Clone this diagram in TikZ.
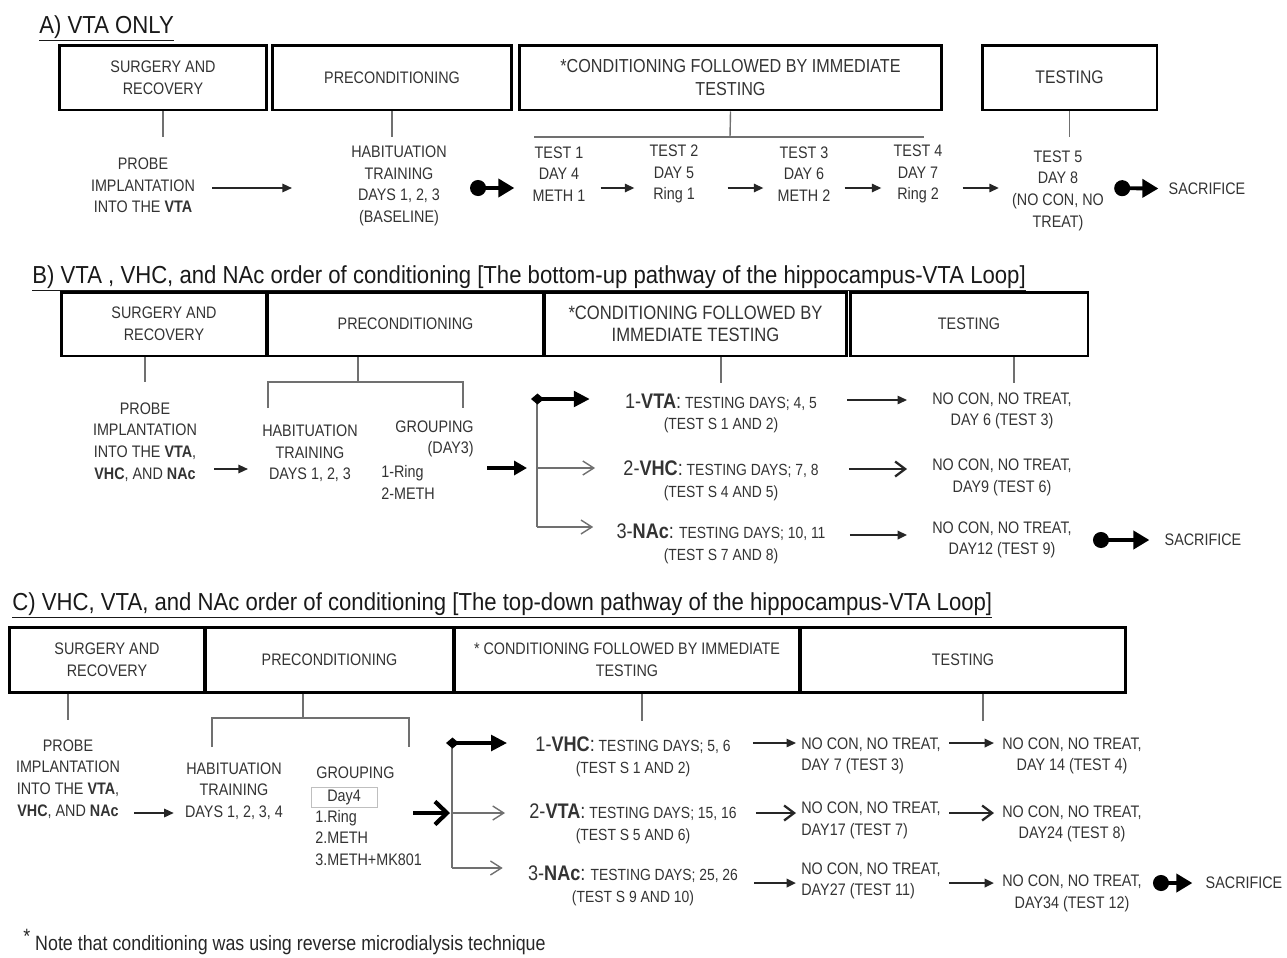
\documentclass[tikz,border=0pt]{standalone}
\usepackage{fontspec}
\newfontfamily\bodyf[FakeStretch=0.86]{Liberation Sans}
\newfontfamily\titf[FakeStretch=0.9]{Liberation Sans}
\usepackage{tikz}
\usetikzlibrary{arrows.meta,positioning,calc}

\definecolor{txt}{HTML}{333333}
\definecolor{lnk}{HTML}{707070}
\newcommand\bodysz{\fontsize{9.5}{12.3}\selectfont}
\newcommand\rowsz{\fontsize{9.2}{12.3}\selectfont}
\newcommand\headsz{\fontsize{12}{12.3}\selectfont}
\newcommand\titsz{\fontsize{14}{16}\selectfont}

\tikzset{
  phase/.style={draw=black, line width=1.7pt, minimum height=1.3cm},
  link/.style={draw=lnk, line width=0.8pt},
  arr/.style={draw=black!85, line width=0.8pt, -{Triangle[length=1.9mm,width=1.7mm]}},
  barb/.style={draw=black!85, line width=1.3pt, -{Straight Barb[length=2mm,width=3mm]}},
  ball/.style={draw=black, line width=2.2pt, {Circle[length=3.2mm]}-{Triangle[length=3.2mm,width=3.6mm]}},
  dia/.style={draw=black, line width=2.2pt, {Diamond[length=2.6mm,width=2.2mm]}-{Triangle[length=3.2mm,width=3.1mm]}},
  branch/.style={draw=lnk, line width=0.8pt, -{Straight Barb[length=2.2mm,width=2.8mm]}},
  fat/.style={draw=black, line width=2.3pt, -{Triangle[length=2.6mm,width=2.8mm]}},
  fatbarb/.style={draw=black, line width=2.4pt, -{Straight Barb[length=2.4mm,width=4.6mm]}},
  title/.style={anchor=base west, font=\titf\titsz, text=black!90},
  rowtxt/.style={font=\bodyf\rowsz},
  daybox/.style={draw=black!25, line width=0.5pt, minimum width=1.32cm, minimum height=0.4cm},
}

\begin{document}
\begin{tikzpicture}[x=0.02cm, y=-0.02cm, every node/.style={inner sep=0pt, text=txt, font=\bodyf\bodysz, align=center}]
  \useasboundingbox (0,0) rectangle (1287,957);

  % ---------------- A) VTA only
  \node[title] (titA) at (39,33) {\underline{A) VTA ONLY}};
  \node[phase, minimum width=4.16cm] (surgA) at (163,77.5) {SURGERY AND\\RECOVERY};
  \node[phase, minimum width=4.8cm] (precA) at (392,77.5) {PRECONDITIONING};
  \node[phase, minimum width=8.46cm, font=\bodyf\fontsize{10.7}{13}\selectfont] (condA) at (730.5,77.5) {*CONDITIONING FOLLOWED BY IMMEDIATE\\TESTING};
  \node[phase, minimum width=3.5cm, font=\bodyf\fontsize{10.4}{13}\selectfont] (testA) at (1069.5,77.5) {TESTING};

  \draw[link] (surgA.south) -- ++(0,26);
  \draw[link] (precA.south) -- ++(0,26);
  \coordinate (barA) at (730,137);
  \draw[link] (condA.south) -- (barA);
  \draw[link] (534,137) -- (924,137);
  \draw[link] (testA.south) -- ++(0,26);

  \node (probeA) at (143,185.5) {PROBE\\IMPLANTATION\\INTO THE \textbf{VTA}};
  \node (habA) at (399,186) {HABITUATION\\TRAINING\\DAYS 1, 2, 3\\(BASELINE)};
  \node (t1A) at (559,174) {TEST 1\\DAY 4\\METH 1};
  \node (t2A) at (674,174) {TEST 2\\DAY 5\\Ring 1};
  \node (t3A) at (804,174) {TEST 3\\DAY 6\\METH 2};
  \node (t4A) at (918,174) {TEST 4\\DAY 7\\Ring 2};
  \node (t5A) at (1058,190.5) {TEST 5\\DAY 8\\(NO CON, NO\\TREAT)};
  \node (sacA) at (1207,189) {SACRIFICE};
  \coordinate (rowA) at (0,188);

  \draw[arr, shorten <=0.34cm, shorten >=1.18cm] (probeA.east |- rowA) -- (habA.west |- rowA);
  \draw[ball, shorten <=0.46cm, shorten >=0.36cm] (habA.east |- rowA) -- (t1A.west |- rowA);
  \draw[arr, shorten <=0.3cm, shorten >=0.3cm] (t1A.east |- rowA) -- (t2A.west |- rowA);
  \draw[arr, shorten <=0.58cm, shorten >=0.28cm] (t2A.east |- rowA) -- (t3A.west |- rowA);
  \draw[arr, shorten <=0.28cm, shorten >=0.24cm] (t3A.east |- rowA) -- (t4A.west |- rowA);
  \draw[arr, shorten <=0.4cm, shorten >=0.26cm] (t4A.east |- rowA) -- (t5A.west |- rowA);
  \draw[ball, shorten <=0.2cm, shorten >=0.2cm] (t5A.east |- rowA) -- (sacA);

  % ---------------- B) bottom-up
  \node[title] (titB) at (32,283) {\underline{B) VTA , VHC, and NAc order of conditioning [The bottom-up pathway of the hippocampus-VTA Loop]}};
  \node[phase, minimum width=4.12cm, minimum height=1.28cm] (surgB) at (164,324) {SURGERY AND\\RECOVERY};
  \node[phase, minimum width=5.54cm, minimum height=1.28cm] (precB) at (405.5,324) {PRECONDITIONING};
  \node[phase, minimum width=6.06cm, minimum height=1.28cm, font=\bodyf\fontsize{11}{12.8}\selectfont] (condB) at (695.5,324) {*CONDITIONING FOLLOWED BY\\IMMEDIATE TESTING};
  \node[phase, minimum width=4.76cm, minimum height=1.28cm] (testB) at (969,324) {TESTING};

  \node (probeB) at (145,442) {PROBE\\IMPLANTATION\\INTO THE \textbf{VTA},\\\textbf{VHC}, AND \textbf{NAc}};
  \node (habB) at (310,453.5) {HABITUATION\\TRAINING\\DAYS 1, 2, 3};
  \node[anchor=east, align=right] (grpB) at (474,439) {GROUPING\\(DAY3)};
  \node[anchor=west, align=left] (ringB) at (381,482.5) {1-Ring\\2-METH};

  \node[rowtxt] (r1B) at (721,413.5) {{\headsz 1-\textbf{VTA}:} TESTING DAYS; 4, 5\\(TEST S 1 AND 2)};
  \node[rowtxt] (r2B) at (721,481) {{\headsz 2-\textbf{VHC}:} TESTING DAYS; 7, 8\\(TEST S 4 AND 5)};
  \node[rowtxt] (r3B) at (721,544) {{\headsz 3-\textbf{NAc}:} TESTING DAYS; 10, 11\\(TEST S 7 AND 8)};
  \node (n1B) at (1002,411) {NO CON, NO TREAT,\\DAY 6 (TEST 3)};
  \node (n2B) at (1002,477.5) {NO CON, NO TREAT,\\DAY9 (TEST 6)};
  \node (n3B) at (1002,540) {NO CON, NO TREAT,\\DAY12 (TEST 9)};
  \node (sacB) at (1203,540) {SACRIFICE};

  \draw[link] (surgB.south -| probeB) -- ++(0,25);
  \coordinate (brkB) at (358,382);
  \draw[link] (precB.south -| brkB) -- (brkB);
  \draw[link] (268,408) |- (brkB) -| (463,408);
  \draw[link] (condB.south -| r1B) -- ++(0,26);
  \draw[link] (testB.south -| 1014,0) -- ++(0,26);

  \coordinate (yB1) at (0,400);
  \coordinate (yB2) at (0,469);
  \coordinate (yB3) at (0,535);
  \draw[arr, shorten <=0.34cm, shorten >=0.28cm] (probeB.east |- yB2) -- (habB.west |- yB2);
  \coordinate (brB1) at (537,399);
  \coordinate (brB2) at (537,468);
  \coordinate (brB3) at (537,527);
  \draw[fat, shorten <=0.26cm, shorten >=0.2cm] (grpB.east |- brB2) -- (brB2);
  \draw[link] (brB1) -- (brB3);
  \draw[dia, shorten <=-0.12cm, shorten >=0.7cm] (brB1) -- (brB1 -| r1B.west);
  \draw[branch, shorten >=0.56cm] (brB2) -- (brB2 -| r2B.west);
  \draw[branch, shorten >=0.46cm] (brB3) -- (brB3 -| r3B.west);

  \draw[arr, shorten <=0.6cm, shorten >=0.5cm] (r1B.east |- yB1) -- (n1B.west |- yB1);
  \draw[barb, shorten <=0.6cm, shorten >=0.5cm] (r2B.east |- yB2) -- (n2B.west |- yB2);
  \draw[arr, line width=1.3pt, shorten <=0.48cm, shorten >=0.5cm] (r3B.east |- yB3) -- (n3B.west |- yB3);
  \draw[ball, shorten <=0.42cm, shorten >=0.3cm] (n3B.east |- sacB) -- (sacB);

  % ---------------- C) top-down
  \node[title] (titC) at (12,610) {\underline{C) VHC, VTA, and NAc order of conditioning [The top-down pathway of the hippocampus-VTA Loop]}};
  \node[phase, minimum width=3.92cm] (surgC) at (107,659.5) {SURGERY AND\\RECOVERY};
  \node[phase, minimum width=4.98cm] (precC) at (329.5,659.5) {PRECONDITIONING};
  \node[phase, minimum width=6.92cm] (condC) at (627,659.5) {* CONDITIONING FOLLOWED BY IMMEDIATE\\TESTING};
  \node[phase, minimum width=6.52cm] (testC) at (963,659.5) {TESTING};

  \node (probeC) at (68,779) {PROBE\\IMPLANTATION\\INTO THE \textbf{VTA},\\\textbf{VHC}, AND \textbf{NAc}};
  \node (habC) at (234,791) {HABITUATION\\TRAINING\\DAYS 1, 2, 3, 4};
  \node[anchor=west] (grpC) at (316,773) {GROUPING};
  \node[daybox] (dayC) at (344,797) {Day4};
  \node[anchor=west, align=left] (listC) at (315,838) {1.Ring\\2.METH\\3.METH+MK801};

  \node[rowtxt] (r1C) at (633,756.5) {{\headsz 1-\textbf{VHC}:} TESTING DAYS; 5, 6\\(TEST S 1 AND 2)};
  \node[rowtxt] (r2C) at (633,824) {{\headsz 2-\textbf{VTA}:} TESTING DAYS; 15, 16\\(TEST S 5 AND 6)};
  \node[rowtxt] (r3C) at (633,886) {{\headsz 3-\textbf{NAc}:} TESTING DAYS; 25, 26\\(TEST S 9 AND 10)};
  \node[anchor=west, align=left] (n1C) at (801,756) {NO CON, NO TREAT,\\DAY 7 (TEST 3)};
  \node[anchor=west, align=left] (n2C) at (801,820.5) {NO CON, NO TREAT,\\DAY17 (TEST 7)};
  \node[anchor=west, align=left] (n3C) at (801,881) {NO CON, NO TREAT,\\DAY27 (TEST 11)};
  \node (m1C) at (1072,756) {NO CON, NO TREAT,\\DAY 14 (TEST 4)};
  \node (m2C) at (1072,824) {NO CON, NO TREAT,\\DAY24 (TEST 8)};
  \node (m3C) at (1072,893.5) {NO CON, NO TREAT,\\DAY34 (TEST 12)};
  \node (sacC) at (1244,883) {SACRIFICE};

  \draw[link] (surgC.south -| probeC) -- ++(0,26);
  \coordinate (brkC) at (303,718);
  \draw[link] (precC.south -| brkC) -- (brkC);
  \draw[link] (212,747) |- (brkC) -| (409,747);
  \draw[link] (condC.south -| 642,0) -- ++(0,27);
  \draw[link] (testC.south -| 983,0) -- ++(0,27);

  \coordinate (yC1) at (0,743);
  \coordinate (yC2) at (0,813);
  \coordinate (yC3) at (0,883);
  \draw[arr, shorten <=0.28cm, shorten >=0.22cm] (probeC.east |- yC2) -- (habC.west |- yC2);
  \coordinate (brC1) at (452,743);
  \coordinate (brC2) at (452,813);
  \coordinate (brC3) at (452,868);
  \draw[fatbarb, shorten <=0.72cm, shorten >=0.04cm] (dayC.east |- brC2) -- (brC2);
  \draw[link] (brC1) -- (brC3);
  \draw[dia, shorten <=-0.12cm, shorten >=0.56cm] (brC1) -- (brC1 -| r1C.west);
  \draw[branch, shorten >=0.48cm] (brC2) -- (brC2 -| r2C.west);
  \draw[branch, shorten >=0.5cm] (brC3) -- (brC3 -| r3C.west);

  \draw[arr, shorten <=0.44cm, shorten >=0.1cm] (r1C.east |- yC1) -- (n1C.west |- yC1);
  \draw[barb, shorten <=0.38cm, shorten >=0.1cm] (r2C.east |- yC2) -- (n2C.west |- yC2);
  \draw[arr, line width=1.3pt, shorten <=0.32cm, shorten >=0.1cm] (r3C.east |- yC3) -- (n3C.west |- yC3);
  \draw[arr, line width=1.3pt, shorten <=0.16cm, shorten >=0.16cm] (n1C.east |- yC1) -- (m1C.west |- yC1);
  \draw[barb, shorten <=0.16cm, shorten >=0.16cm] (n2C.east |- yC2) -- (m2C.west |- yC2);
  \draw[arr, line width=1.3pt, shorten <=0.16cm, shorten >=0.16cm] (n3C.east |- yC3) -- (m3C.west |- yC3);
  \draw[ball, shorten <=0.22cm, shorten >=0.26cm] (m3C.east |- sacC) -- (sacC);

  \node[anchor=base west, font=\bodyf\fontsize{11.8}{13}\selectfont, text=black!85] (noteC) at (23,950) {\raisebox{0.3em}{*} Note that conditioning was using reverse microdialysis technique};
\end{tikzpicture}
\end{document}
